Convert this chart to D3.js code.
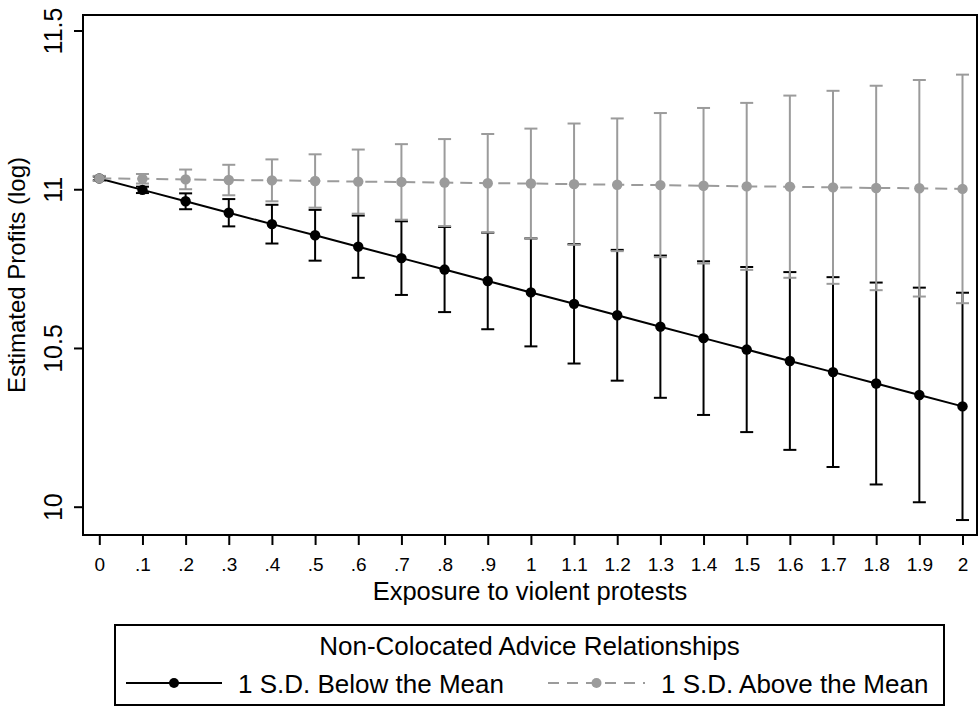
<!DOCTYPE html>
<html>
<head>
<meta charset="utf-8">
<script src="https://cdn.jsdelivr.net/npm/d3@7"></script>
<style>
  html, body { margin: 0; padding: 0; background: #fff; }
  svg { display: block; font-family: "Liberation Sans", Arial, Helvetica, sans-serif; }
</style>
</head>
<body>
<svg id="chart" width="979" height="707"></svg>
<script>
// ---- data ----
const exposure = [0, 0.1, 0.2, 0.3, 0.4, 0.5, 0.6, 0.7, 0.8, 0.9, 1.0, 1.1, 1.2, 1.3, 1.4, 1.5, 1.6, 1.7, 1.8, 1.9, 2.0];
const xTickLabels = ["0", ".1", ".2", ".3", ".4", ".5", ".6", ".7", ".8", ".9", "1", "1.1", "1.2", "1.3", "1.4", "1.5", "1.6", "1.7", "1.8", "1.9", "2"];
const yTicks = [10, 10.5, 11, 11.5];
const yTickLabels = ["10", "10.5", "11", "11.5"];

const belowMean = [11.034, 10.998, 10.962, 10.926, 10.890, 10.855, 10.819, 10.783, 10.747, 10.711, 10.675, 10.639, 10.603, 10.567, 10.531, 10.495, 10.459, 10.424, 10.388, 10.352, 10.316];
const belowHalfCI = [0.006, 0.010, 0.025, 0.043, 0.061, 0.080, 0.098, 0.116, 0.134, 0.152, 0.170, 0.188, 0.206, 0.224, 0.242, 0.260, 0.280, 0.299, 0.318, 0.338, 0.358];
const aboveMean = [11.034, 11.033, 11.031, 11.029, 11.028, 11.026, 11.024, 11.023, 11.021, 11.019, 11.018, 11.016, 11.014, 11.013, 11.011, 11.009, 11.008, 11.006, 11.004, 11.003, 11.001];
const aboveHalfCI = [0.008, 0.015, 0.031, 0.048, 0.066, 0.084, 0.101, 0.119, 0.137, 0.155, 0.173, 0.191, 0.209, 0.227, 0.245, 0.263, 0.287, 0.304, 0.322, 0.341, 0.360];

const seriesNames = ["1 S.D. Below the Mean", "1 S.D. Above the Mean"];
const legendTitle = "Non-Colocated Advice Relationships";
const xTitle = "Exposure to violent protests";
const yTitle = "Estimated Profits (log)";

// ---- build ----
const svg = d3.select("#chart");
const frame = { left: 83, right: 977, top: 15, bottom: 535 };
const x = d3.scaleLinear().domain([0, 2]).range([99.3, 962.5]);
const y = d3.scaleLinear().domain([10, 11.5]).range([506.7, 30.5]);

const BLACK = "#000000";
const GRAY = "#9b9b9b";

const series = [
  { name: seriesNames[0], color: BLACK, dash: null,
    pts: exposure.map((e, i) => ({ x: e, y: belowMean[i], lo: belowMean[i] - belowHalfCI[i], hi: belowMean[i] + belowHalfCI[i] })) },
  { name: seriesNames[1], color: GRAY, dash: "12,7",
    pts: exposure.map((e, i) => ({ x: e, y: aboveMean[i], lo: aboveMean[i] - aboveHalfCI[i], hi: aboveMean[i] + aboveHalfCI[i] })) }
];

// CI caps (both series first)
const capW = 6.5;
series.forEach(s => {
  const g = svg.append("g").attr("stroke", s.color).attr("stroke-width", 2).attr("fill", "none");
  g.selectAll("line.v").data(s.pts).join("line").attr("class", "v")
    .attr("x1", d => x(d.x)).attr("x2", d => x(d.x))
    .attr("y1", d => y(d.lo)).attr("y2", d => y(d.hi));
  g.selectAll("line.t").data(s.pts).join("line").attr("class", "t")
    .attr("x1", d => x(d.x) - capW).attr("x2", d => x(d.x) + capW)
    .attr("y1", d => y(d.hi)).attr("y2", d => y(d.hi));
  g.selectAll("line.b").data(s.pts).join("line").attr("class", "b")
    .attr("x1", d => x(d.x) - capW).attr("x2", d => x(d.x) + capW)
    .attr("y1", d => y(d.lo)).attr("y2", d => y(d.lo));
});

// lines and markers
const line = d3.line().x(d => x(d.x)).y(d => y(d.y));
series.forEach(s => {
  svg.append("path").datum(s.pts)
    .attr("d", line).attr("fill", "none").attr("stroke", s.color).attr("stroke-width", 2)
    .attr("stroke-dasharray", s.dash);
  svg.append("g").selectAll("circle").data(s.pts).join("circle")
    .attr("cx", d => x(d.x)).attr("cy", d => y(d.y)).attr("r", 5.2).attr("fill", s.color);
});

// frame
svg.append("rect").attr("x", frame.left).attr("y", frame.top)
  .attr("width", frame.right - frame.left).attr("height", frame.bottom - frame.top)
  .attr("fill", "none").attr("stroke", "#000").attr("stroke-width", 2);

// x axis
const xAxis = d3.axisBottom(x).tickValues(exposure).tickSize(10).tickPadding(12)
  .tickFormat((d, i) => xTickLabels[i]);
const gx = svg.append("g").attr("transform", `translate(0,${frame.bottom})`).call(xAxis);
gx.select(".domain").remove();
gx.selectAll(".tick line").attr("stroke", "#000").attr("stroke-width", 2);
gx.selectAll(".tick text").attr("font-size", 19).attr("fill", "#000")
  .attr("font-family", "Liberation Sans, Arial, sans-serif").attr("dy", null).attr("y", 36);

// y axis
const yAxis = d3.axisLeft(y).tickValues(yTicks).tickSize(9).tickFormat((d, i) => yTickLabels[i]);
const gy = svg.append("g").attr("transform", `translate(${frame.left},0)`).call(yAxis);
gy.select(".domain").remove();
gy.selectAll(".tick line").attr("stroke", "#000").attr("stroke-width", 2);
gy.selectAll(".tick text").attr("font-size", 25).attr("fill", "#000")
  .attr("font-family", "Liberation Sans, Arial, sans-serif")
  .attr("x", null).attr("dy", null).attr("text-anchor", "middle")
  .attr("transform", `translate(${62 - frame.left},0) rotate(-90)`);

// axis titles
svg.append("text").attr("x", (frame.left + frame.right) / 2).attr("y", 600)
  .attr("text-anchor", "middle").attr("font-size", 25.5).text(xTitle);
svg.append("text").attr("transform", `translate(25,${(frame.top + frame.bottom) / 2}) rotate(-90)`)
  .attr("text-anchor", "middle").attr("font-size", 24).text(yTitle);

// legend
const lg = svg.append("g");
const lgBox = { left: 115, right: 944, top: 625, bottom: 705 };
lg.append("rect").attr("x", lgBox.left).attr("y", lgBox.top)
  .attr("width", lgBox.right - lgBox.left).attr("height", lgBox.bottom - lgBox.top)
  .attr("fill", "#fff").attr("stroke", "#000").attr("stroke-width", 2);
lg.append("text").attr("x", (lgBox.left + lgBox.right) / 2).attr("y", 655)
  .attr("text-anchor", "middle").attr("font-size", 26).text(legendTitle);
const entries = [
  { s: series[0], x0: 126, x1: 222, tx: 238 },
  { s: series[1], x0: 548, x1: 645, tx: 661 }
];
entries.forEach(e => {
  lg.append("line").attr("x1", e.x0).attr("x2", e.x1).attr("y1", 683).attr("y2", 683)
    .attr("stroke", e.s.color).attr("stroke-width", 2).attr("stroke-dasharray", e.s.dash ? "11,8" : null);
  lg.append("circle").attr("cx", (e.x0 + e.x1) / 2).attr("cy", 683).attr("r", 5).attr("fill", e.s.color);
  lg.append("text").attr("x", e.tx).attr("y", 693).attr("font-size", 26).text(e.s.name);
});
</script>
</body>
</html>
